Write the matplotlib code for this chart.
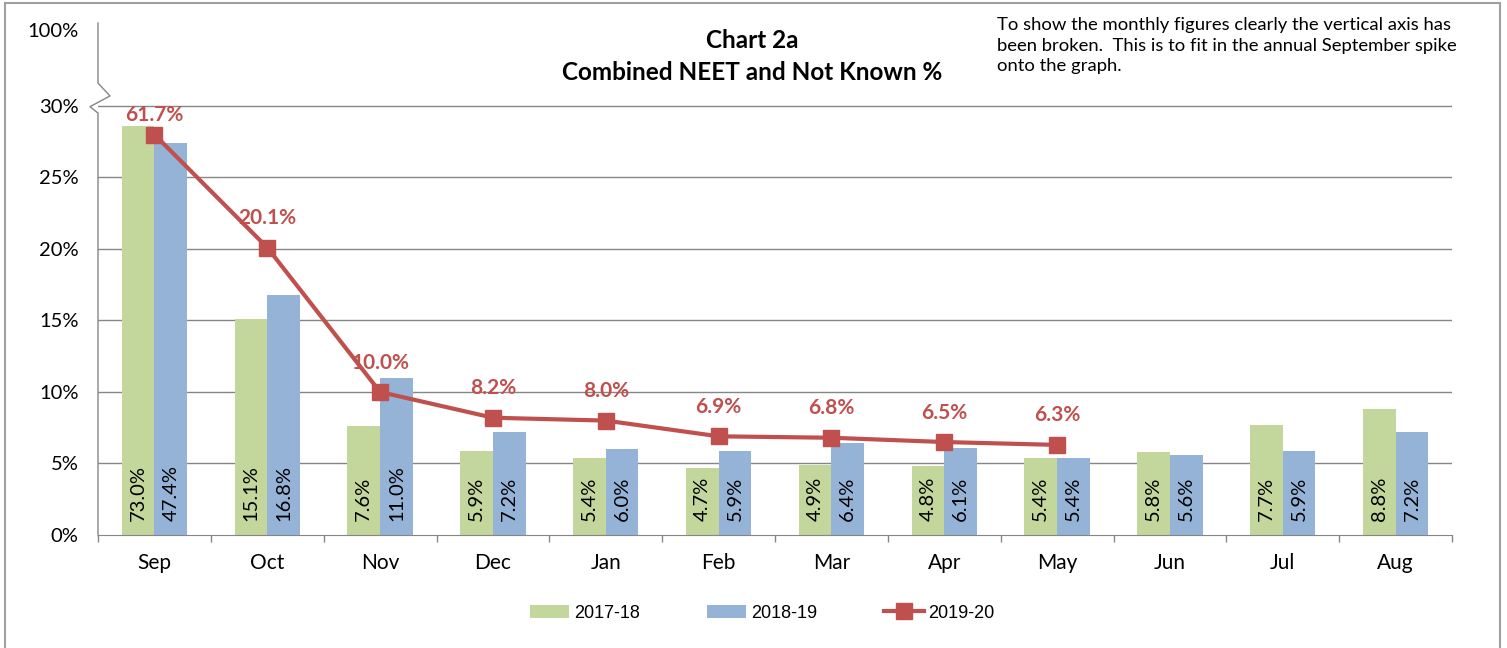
import numpy as np
import matplotlib
matplotlib.use("Agg")
import matplotlib.pyplot as plt
from matplotlib.patches import Rectangle
from matplotlib.lines import Line2D
import matplotlib.transforms as mtransforms

plt.rcParams['font.family'] = ['Lato', 'DejaVu Sans']

months = ["Sep", "Oct", "Nov", "Dec", "Jan", "Feb", "Mar", "Apr", "May",
          "Jun", "Jul", "Aug"]

# real values (used for the labels)
y2017 = [73.0, 15.1, 7.6, 5.9, 5.4, 4.7, 4.9, 4.8, 5.4, 5.8, 7.7, 8.8]
y2018 = [47.4, 16.8, 11.0, 7.2, 6.0, 5.9, 6.4, 6.1, 5.4, 5.6, 5.9, 7.2]
y2019 = [61.7, 20.1, 10.0, 8.2, 8.0, 6.9, 6.8, 6.5, 6.3]

# September values squeezed into the broken part of the axis
sep_shown_2017 = 28.6
sep_shown_2018 = 27.4
sep_shown_2019 = 28.0

y_ticks = [0, 5, 10, 15, 20, 25, 30]
y_tick_labels = ["0%", "5%", "10%", "15%", "20%", "25%", "30%"]
top_tick = 35.3
top_tick_label = "100%"

GREEN = "#C3D69B"
BLUE = "#95B3D7"
RED = "#C0504D"
GRID = "#868686"

h2017 = [sep_shown_2017] + y2017[1:]
h2018 = [sep_shown_2018] + y2018[1:]
h2019 = [sep_shown_2019] + y2019[1:]

fig = plt.figure(figsize=(15.07, 6.48), dpi=100)
ax = fig.add_axes([98 / 1507, 1 - 535 / 648, 1354 / 1507, 512 / 648])

x = np.arange(len(months))
w = 0.29
b1 = ax.bar(x - w / 2, h2017, w, color=GREEN, label="2017-18", zorder=2)
b2 = ax.bar(x + w / 2, h2018, w, color=BLUE, label="2018-19", zorder=2)
l3, = ax.plot(x[:len(h2019)], h2019, color=RED, lw=3, marker="s",
              markersize=12, label="2019-20", zorder=3)

# labels inside the bars
for i in range(len(months)):
    ax.text(x[i] - w / 2, 1.0, f"{y2017[i]:.1f}%", rotation=90, ha="center",
            va="bottom", fontsize=14.5, zorder=4)
    ax.text(x[i] + w / 2, 1.0, f"{y2018[i]:.1f}%", rotation=90, ha="center",
            va="bottom", fontsize=14.5, zorder=4)

# labels on the line
for i in range(len(h2019)):
    off = 7 if i == 0 else 14
    ax.annotate(f"{y2019[i]:.1f}%", (x[i], h2019[i]), xytext=(0, off),
                textcoords="offset points", ha="center", va="bottom",
                color=RED, fontsize=15, fontweight="bold", zorder=4)

ax.set_xlim(-0.5, len(months) - 0.5)
ax.set_ylim(0, 35.8)

for gy in y_ticks[1:]:
    ax.axhline(gy, color=GRID, lw=1, zorder=1)

ax.set_yticks(y_ticks + [top_tick])
ax.set_yticklabels(y_tick_labels + [top_tick_label])
ax.tick_params(axis="y", length=0, pad=14, labelsize=14.5)

ax.set_xticks(x)
ax.set_xticklabels(months)
ax.set_xticks(np.arange(-0.5, len(months)), minor=True)
ax.tick_params(axis="x", which="major", length=0, pad=13, labelsize=15)
ax.tick_params(axis="x", which="minor", length=5, color=GRID, width=1)

for s in ["top", "right", "left"]:
    ax.spines[s].set_visible(False)
ax.spines["bottom"].set_color(GRID)

# broken y axis line
trans = mtransforms.blended_transform_factory(ax.transAxes, ax.transData)
px = 1 / 1354
zx = [0, 0, 12 * px, -8 * px, 0, 0]
zy = [35.8, 31.6, 30.7, 29.95, 29.5, 0]
ax.add_line(Line2D(zx, zy, transform=trans, color=GRID, lw=1,
                   clip_on=False, zorder=5))

fig.text(0.499, 1 - 40 / 648, "Chart 2a", ha="center", va="center",
         fontsize=17.5, fontweight="bold")
fig.text(0.499, 1 - 72 / 648, "Combined NEET and Not Known %", ha="center",
         va="center", fontsize=17.5, fontweight="bold")

fig.text(997 / 1507, 1 - 17 / 648,
         "To show the monthly figures clearly the vertical axis has\n"
         "been broken.  This is to fit in the annual September spike\n"
         "onto the graph.", ha="left", va="top", fontsize=13.3,
         linespacing=1.36)

fig.legend([b1, b2, l3], ["2017-18", "2018-19", "2019-20"], loc="center",
           bbox_to_anchor=(762 / 1507, 1 - 613 / 648), ncol=3,
           frameon=False, handlelength=2.2, handletextpad=0.25,
           columnspacing=3.7, prop={"family": "Liberation Sans", "size": 13})

fig.add_artist(Rectangle((5 / 1507, -0.02), 1495 / 1507, 1 - 3 / 648 + 0.02,
                         transform=fig.transFigure, fill=False,
                         edgecolor="#A0A0A0", lw=1.5))

fig.savefig("out.png", dpi=100)
